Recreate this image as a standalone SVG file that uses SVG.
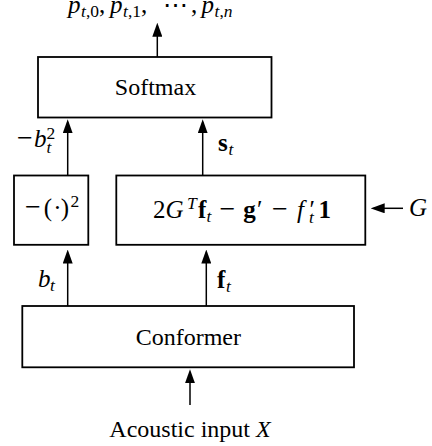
<svg xmlns="http://www.w3.org/2000/svg" width="432" height="446" viewBox="0 0 432 446">
<defs>
<style>
.box{fill:#fff;stroke:#000;stroke-width:1.8}
.conn line{stroke:#000;stroke-width:1.5;fill:none;marker-end:url(#ah)}
.t{font-family:"Liberation Serif","DejaVu Serif",serif;font-size:24px;fill:#000}
.m{font-family:"Liberation Serif","DejaVu Serif",serif;font-size:25px;fill:#000}
.i{font-style:italic}
.b{font-weight:bold}
.s{font-size:17.5px}
.mn{font-size:28px}
</style>
<marker id="ah" markerUnits="userSpaceOnUse" markerWidth="14" markerHeight="10" viewBox="0 0 14 10" refX="11" refY="5" orient="auto">
<path d="M0,0 L14,5 L0,10 z" fill="#000"/>
</marker>
</defs>
<rect width="432" height="446" fill="#fff"/>

<g id="conn" class="conn">
<line x1="157.3" y1="57" x2="157.3" y2="25.7"/>
<line x1="67.7" y1="175.5" x2="67.7" y2="122.3"/>
<line x1="202.7" y1="175.5" x2="202.7" y2="122.3"/>
<line x1="67.7" y1="306" x2="67.7" y2="252.5"/>
<line x1="206.3" y1="306" x2="206.3" y2="252.5"/>
<line x1="190" y1="405" x2="190" y2="372.3"/>
<line x1="403" y1="208.3" x2="373.7" y2="208.3"/>
</g>

<g id="output">
<text class="m"><tspan class="i" x="68" y="12.5">p</tspan><tspan class="s" x="81" y="16.5"><tspan class="i">t</tspan>,0</tspan><tspan y="12.5">,</tspan><tspan class="i" x="110" y="12.5">p</tspan><tspan class="s" x="123" y="16.5"><tspan class="i">t</tspan>,1</tspan><tspan y="12.5">,</tspan><tspan x="163" y="12.5">⋯</tspan><tspan x="191" y="12.5">,</tspan><tspan class="i" x="201.5" y="12.5">p</tspan><tspan class="s" x="214.5" y="16.5"><tspan class="i">t</tspan>,<tspan class="i">n</tspan></tspan></text>
</g>

<g id="softmax">
<rect class="box" x="38" y="57" width="233.5" height="60.5"/>
<text class="t" x="155.5" y="95" text-anchor="middle">Softmax</text>
</g>

<g id="label-neg-b2">
<text class="m"><tspan class="mn" x="17" y="147">−</tspan><tspan class="i" x="34" y="147">b</tspan><tspan class="s" x="46.5" y="138.5">2</tspan><tspan class="s i" x="46.5" y="152.5">t</tspan></text>
</g>

<g id="label-s">
<text class="m"><tspan class="b" x="218" y="150.7">s</tspan><tspan class="s i" x="228.5" y="154.7">t</tspan></text>
</g>

<g id="square">
<rect class="box" x="14" y="175.5" width="74.3" height="69.3"/>
<text class="m"><tspan class="mn" x="25" y="216">−</tspan><tspan x="43.7" y="216">(</tspan><tspan x="53.3" y="216">·</tspan><tspan x="60.8" y="216">)</tspan><tspan class="s" x="70.5" y="206.5">2</tspan></text>
</g>

<g id="score">
<rect class="box" x="116.3" y="175.5" width="249" height="69.3"/>
<text class="m"><tspan x="153" y="217.5">2</tspan><tspan class="i" x="165.5" y="217.5">G</tspan><tspan class="s i" x="187" y="208.5">T</tspan><tspan class="b" x="198" y="217.5">f</tspan><tspan class="s i" x="206.6" y="222">t</tspan><tspan class="mn" x="219.6" y="217.5">−</tspan><tspan class="b" x="243.2" y="217.5">g</tspan><tspan x="257" y="217.5">′</tspan><tspan class="mn" x="272" y="217.5">−</tspan><tspan class="i" x="297" y="217.5">f</tspan><tspan x="309.5" y="217.5">′</tspan><tspan class="s i" x="309" y="222.5">t</tspan><tspan class="b" x="318.5" y="217.5">1</tspan></text>
</g>

<g id="input-G">
<text class="m i" x="409" y="216">G</text>
</g>

<g id="label-b">
<text class="m"><tspan class="i" x="38" y="287">b</tspan><tspan class="s i" x="50" y="291">t</tspan></text>
</g>

<g id="label-f">
<text class="m"><tspan class="b" x="217" y="288">f</tspan><tspan class="s i" x="226" y="292">t</tspan></text>
</g>

<g id="conformer">
<rect class="box" x="22.3" y="306" width="331.7" height="61.3"/>
<text class="t" x="188.3" y="345" text-anchor="middle">Conformer</text>
</g>

<g id="input">
<text class="t" x="190" y="436.7" text-anchor="middle">Acoustic input <tspan class="i">X</tspan></text>
</g>
</svg>
